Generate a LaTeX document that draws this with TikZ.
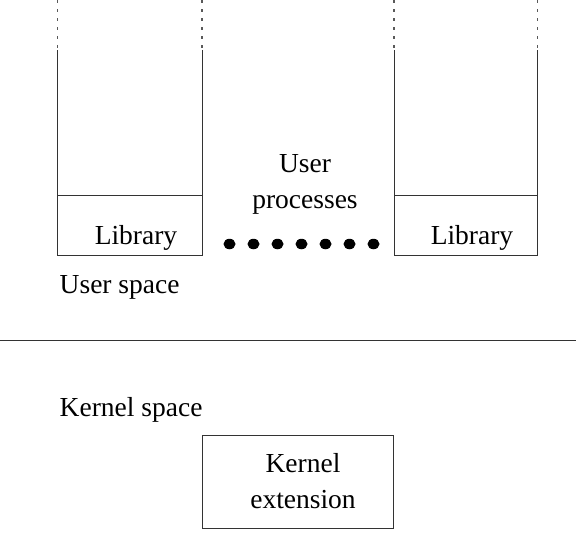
\documentclass[tikz,border=0pt]{standalone}
\usepackage{fontspec}
\setmainfont{Liberation Serif}
\usetikzlibrary{shapes.geometric}
\begin{document}
\begin{tikzpicture}[x=1pt,y=-1pt,
  every node/.style={font=\fontsize{27.5}{36}\selectfont, inner sep=0pt},
  edge/.style={line width=0.9pt, draw=black!80},
  dotline/.style={line width=1.3pt, draw=black!65, dash pattern=on 2.5pt off 6.5pt},
  bigdot/.style={ellipse, fill=black, minimum width=12pt, minimum height=10.5pt, inner sep=0pt}]
\useasboundingbox (0,0) rectangle (576,533);
% left process
\coordinate (lt1) at (57.5,0); \coordinate (lt2) at (202,0);
\coordinate (lm1) at (57.5,50); \coordinate (lm2) at (202,50);
\coordinate (ll1) at (57.5,195.5); \coordinate (ll2) at (202,195.5);
\coordinate (lb1) at (57.5,255.5); \coordinate (lb2) at (202,255.5);
\draw[dotline] (lt1) -- (lm1);
\draw[dotline] (lt2) -- (lm2);
\draw[edge] (lm1) -- (lb1) -- (lb2) -- (lm2);
\draw[edge] (ll1) -- (ll2);
\node[anchor=base] (lib1) at (136,244) {Library};
% right process
\coordinate (rt1) at (394,0); \coordinate (rt2) at (537.5,0);
\coordinate (rm1) at (394,50); \coordinate (rm2) at (537.5,50);
\coordinate (rl1) at (394,195.5); \coordinate (rl2) at (537.5,195.5);
\coordinate (rb1) at (394,255.5); \coordinate (rb2) at (537.5,255.5);
\draw[dotline] (rt1) -- (rm1);
\draw[dotline] (rt2) -- (rm2);
\draw[edge] (rm1) -- (rb1) -- (rb2) -- (rm2);
\draw[edge] (rl1) -- (rl2);
\node[anchor=base] (lib2) at (472,244) {Library};
% user processes label and dots
\node[align=center] (up) at (305,184) {User\\processes};
\foreach \i in {0,...,6} {
  \node[bigdot] (d\i) at ({229.5+\i*24},244) {};
}
% spaces
\node[anchor=base west] (us) at (59.5,293) {User space};
\coordinate (sep1) at (0,340.5); \coordinate (sep2) at (576,340.5);
\draw[edge] (sep1) -- (sep2);
\node[anchor=base west] (ks) at (59.5,416.5) {Kernel space};
% kernel extension
\node[draw=black!80, line width=0.9pt, minimum width=191pt, minimum height=93pt] (kbox) at (297.5,481.5) {};
\node[align=center] (ke) at (303,481.4) {Kernel\\extension};
\end{tikzpicture}
\end{document}
